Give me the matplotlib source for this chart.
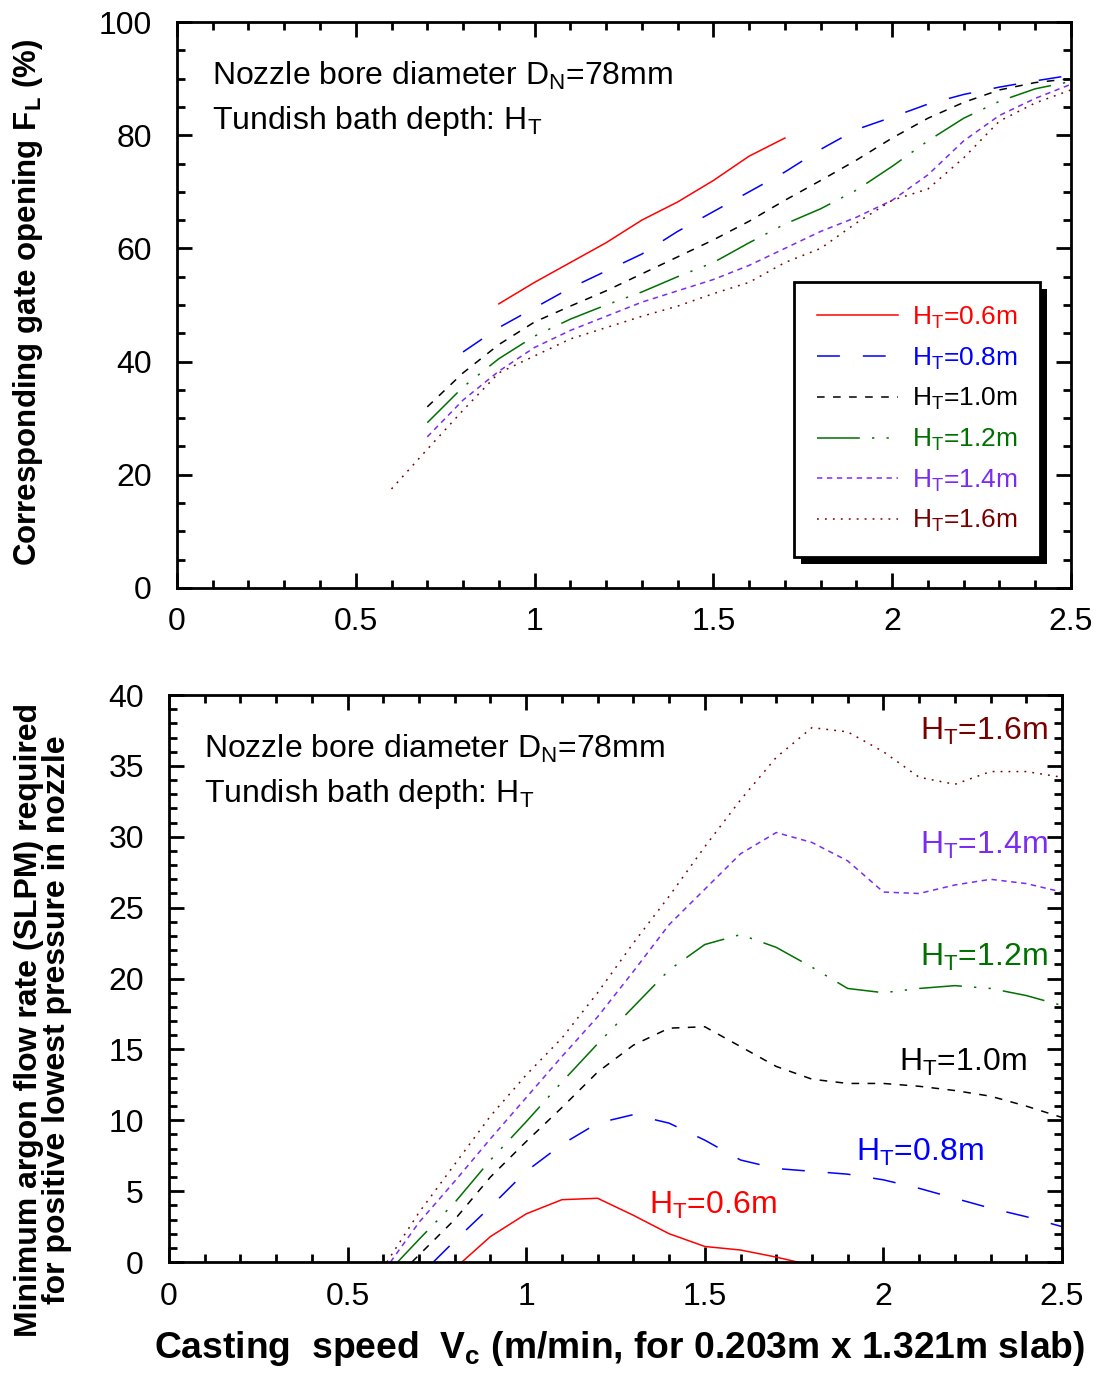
import matplotlib
matplotlib.use("Agg")
import matplotlib.pyplot as plt
import matplotlib.patheffects as pe
from matplotlib.ticker import MultipleLocator

plt.rcParams['font.family'] = ['Liberation Sans', 'DejaVu Sans']
plt.rcParams['mathtext.fontset'] = 'custom'
plt.rcParams['mathtext.rm'] = 'Liberation Sans'
plt.rcParams['mathtext.it'] = 'Liberation Sans'
plt.rcParams['mathtext.bf'] = 'Liberation Sans:bold'

depths = ['0.6', '0.8', '1.0', '1.2', '1.4', '1.6']
colors = ['#ff0000', '#0000ff', '#000000', '#007000', '#7a2cf0', '#7a0000']
styles = ['-', (0, (15, 15)), (0, (5, 5.5)), (0, (28, 8, 1.5, 8, 1.5, 8)), (0, (3.5, 3)), (0, (1.2, 4))]

# top chart: gate opening (%) vs casting speed
gate_x = {
    '0.6': [0.9, 1.0, 1.1, 1.2, 1.3, 1.4, 1.5, 1.6, 1.7],
    '0.8': [0.8, 0.9, 1.0, 1.1, 1.2, 1.3, 1.4, 1.5, 1.6, 1.7, 1.8, 1.9, 2.0, 2.1, 2.2, 2.3, 2.4, 2.5],
    '1.0': [0.7, 0.8, 0.9, 1.0, 1.1, 1.2, 1.3, 1.4, 1.5, 1.6, 1.7, 1.8, 1.9, 2.0, 2.1, 2.2, 2.3, 2.4, 2.5],
    '1.2': [0.7, 0.8, 0.9, 1.0, 1.1, 1.2, 1.3, 1.4, 1.5, 1.6, 1.7, 1.8, 1.9, 2.0, 2.1, 2.2, 2.3, 2.4, 2.5],
    '1.4': [0.7, 0.8, 0.9, 1.0, 1.1, 1.2, 1.3, 1.4, 1.5, 1.6, 1.7, 1.8, 1.9, 2.0, 2.1, 2.2, 2.3, 2.4, 2.5],
    '1.6': [0.6, 0.7, 0.8, 0.9, 1.0, 1.1, 1.2, 1.3, 1.4, 1.5, 1.6, 1.7, 1.8, 1.9, 2.0, 2.1, 2.2, 2.3, 2.4, 2.5],
}
gate_y = {
    '0.6': [50.2, 54.0, 57.5, 61.0, 65.0, 68.2, 72.0, 76.3, 79.5],
    '0.8': [41.7, 46.0, 49.5, 53.0, 56.0, 59.0, 63.0, 66.5, 70.0, 73.5, 77.5, 81.0, 83.2, 85.5, 87.2, 88.5, 89.6, 90.6],
    '1.0': [32.0, 38.0, 43.0, 47.0, 49.8, 52.5, 55.5, 58.5, 61.5, 64.8, 68.5, 72.0, 75.6, 79.5, 83.0, 85.8, 88.0, 89.3, 90.0],
    '1.2': [29.2, 35.5, 40.5, 44.5, 47.5, 50.0, 52.3, 55.0, 57.5, 61.0, 64.3, 67.0, 70.3, 74.5, 79.0, 83.0, 86.0, 88.2, 89.5],
    '1.4': [26.7, 33.2, 38.3, 42.5, 45.5, 48.0, 50.5, 52.5, 54.5, 57.0, 60.0, 63.0, 65.5, 68.5, 73.0, 79.0, 83.5, 86.5, 89.0],
    '1.6': [17.5, 24.5, 31.4, 38.0, 41.0, 44.0, 46.0, 48.0, 49.8, 52.0, 54.0, 57.5, 60.0, 64.5, 68.5, 70.5, 76.0, 82.5, 85.7, 88.0],
}

# bottom chart: minimum argon flow (SLPM) vs casting speed
argon_x = {
    '0.6': [0.82, 0.9, 1.0, 1.1, 1.2, 1.3, 1.4, 1.5, 1.6, 1.7, 1.76],
    '0.8': [0.74, 0.8, 0.9, 1.0, 1.1, 1.2, 1.3, 1.4, 1.5, 1.6, 1.7, 1.8, 1.9, 2.0, 2.1, 2.2, 2.3, 2.4, 2.5],
    '1.0': [0.68, 0.8, 0.9, 1.0, 1.1, 1.2, 1.3, 1.4, 1.5, 1.6, 1.7, 1.8, 1.9, 2.0, 2.1, 2.2, 2.3, 2.4, 2.5],
    '1.2': [0.64, 0.7, 0.8, 0.9, 1.0, 1.1, 1.2, 1.3, 1.4, 1.5, 1.6, 1.7, 1.8, 1.9, 2.0, 2.1, 2.2, 2.3, 2.4, 2.5],
    '1.4': [0.62, 0.7, 0.8, 0.9, 1.0, 1.1, 1.2, 1.3, 1.4, 1.5, 1.6, 1.7, 1.8, 1.9, 2.0, 2.1, 2.2, 2.3, 2.4, 2.5],
    '1.6': [0.61, 0.7, 0.8, 0.9, 1.0, 1.1, 1.2, 1.3, 1.4, 1.5, 1.6, 1.7, 1.8, 1.9, 2.0, 2.1, 2.2, 2.3, 2.4, 2.5],
}
argon_y = {
    '0.6': [0.0, 1.8, 3.4, 4.4, 4.5, 3.3, 2.0, 1.1, 0.85, 0.35, 0.0],
    '0.8': [0.0, 1.5, 3.9, 6.4, 8.3, 9.8, 10.4, 9.8, 8.6, 7.2, 6.6, 6.4, 6.2, 5.8, 5.2, 4.5, 3.8, 3.2, 2.5],
    '1.0': [0.0, 3.0, 6.0, 8.5, 10.9, 13.4, 15.3, 16.5, 16.6, 15.2, 13.8, 12.9, 12.6, 12.6, 12.4, 12.1, 11.7, 11.0, 10.2],
    '1.2': [0.0, 1.6, 4.2, 7.2, 9.9, 12.7, 15.4, 18.0, 20.6, 22.4, 23.1, 22.2, 20.8, 19.3, 19.0, 19.3, 19.5, 19.3, 18.8, 18.1],
    '1.4': [0.0, 2.8, 5.7, 8.7, 11.6, 14.5, 17.3, 20.5, 23.8, 26.3, 28.8, 30.3, 29.6, 28.3, 26.1, 26.0, 26.6, 27.0, 26.7, 26.1],
    '1.6': [0.0, 3.5, 6.9, 10.3, 13.2, 15.8, 19.0, 22.5, 25.8, 29.3, 32.6, 35.6, 37.7, 37.4, 36.0, 34.2, 33.7, 34.6, 34.6, 34.2],
}

# right end of each curve label in the bottom chart (x, y in data units)
argon_labels = {'0.6': (1.70, 4.0), '0.8': (2.28, 7.7), '1.0': (2.40, 14.1),
                '1.2': (2.46, 21.5), '1.4': (2.46, 29.4), '1.6': (2.46, 37.4)}

fig = plt.figure(figsize=(11.08, 13.76), dpi=100)
ax1 = fig.add_axes([0.1597, 0.5727, 0.8069, 0.4113])
ax2 = fig.add_axes([0.1525, 0.0828, 0.8060, 0.4121])


def style_axes(ax, ymax, ymajor, yminor):
    ax.set_xlim(0, 2.5)
    ax.set_ylim(0, ymax)
    ax.xaxis.set_major_locator(MultipleLocator(0.5))
    ax.xaxis.set_minor_locator(MultipleLocator(0.1))
    ax.yaxis.set_major_locator(MultipleLocator(ymajor))
    ax.yaxis.set_minor_locator(MultipleLocator(yminor))
    ax.xaxis.set_major_formatter(plt.FuncFormatter(lambda v, p: ('%g' % v)))
    ax.tick_params(which='both', direction='in', top=True, right=True, width=2)
    ax.tick_params(which='major', length=11, labelsize=23)
    ax.tick_params(axis='x', which='major', pad=14)
    ax.tick_params(axis='y', which='major', pad=18)
    ax.tick_params(which='minor', length=6)
    for s in ax.spines.values():
        s.set_linewidth(2)


style_axes(ax1, 100, 20, 5)
style_axes(ax2, 40, 5, 1)

handles = []
for d, c, ls in zip(depths, colors, styles):
    h, = ax1.plot(gate_x[d], gate_y[d], color=c, linestyle=ls, linewidth=1.1,
                  label=r'H$_\mathregular{T}$=' + d + 'm')
    handles.append(h)
    ax2.plot(argon_x[d], argon_y[d], color=c, linestyle=ls, linewidth=1.1)
    lx, ly = argon_labels[d]
    ax2.text(lx, ly, r'H$_\mathregular{T}$=' + d + 'm', color=c, fontsize=23, ha='right', va='center')

leg = ax1.legend(handles=handles, loc='lower right', bbox_to_anchor=(0.965, 0.055), borderaxespad=0,
                 fontsize=19, handlelength=3.1, handletextpad=0.5, labelspacing=0.55, borderpad=0.85,
                 fancybox=False, framealpha=1, edgecolor='black')
leg.get_frame().set_linewidth(2)
leg.get_frame().set_path_effects([pe.SimplePatchShadow(offset=(5, -5), shadow_rgbFace='black', alpha=1),
                                  pe.Normal()])
for t, c in zip(leg.get_texts(), colors):
    t.set_color(c)

for ax in (ax1, ax2):
    ax.text(0.039, 0.905, r'Nozzle bore diameter D$_\mathregular{N}$=78mm', transform=ax.transAxes,
            fontsize=23, va='center')
    ax.text(0.039, 0.825, r'Tundish bath depth: H$_\mathregular{T}$', transform=ax.transAxes,
            fontsize=23, va='center')

ax1.set_ylabel(r'Corresponding gate opening F$_\mathbf{L}$ (%)', fontsize=22.5, fontweight='bold')
ax1.yaxis.set_label_coords(-0.148, 0.505)
ax2.set_ylabel('Minimum argon flow rate (SLPM) required\nfor positive lowest pressure in nozzle',
               fontsize=23, fontweight='bold', linespacing=0.9)
ax2.yaxis.set_label_coords(-0.109, 0.427)
ax2.set_xlabel(r'Casting  speed  V$_\mathbf{c}$ (m/min, for 0.203m x 1.321m slab)', fontsize=26.8,
               fontweight='bold')
ax2.xaxis.set_label_coords(0.505, -0.118)

fig.savefig('out.png', dpi=100)
